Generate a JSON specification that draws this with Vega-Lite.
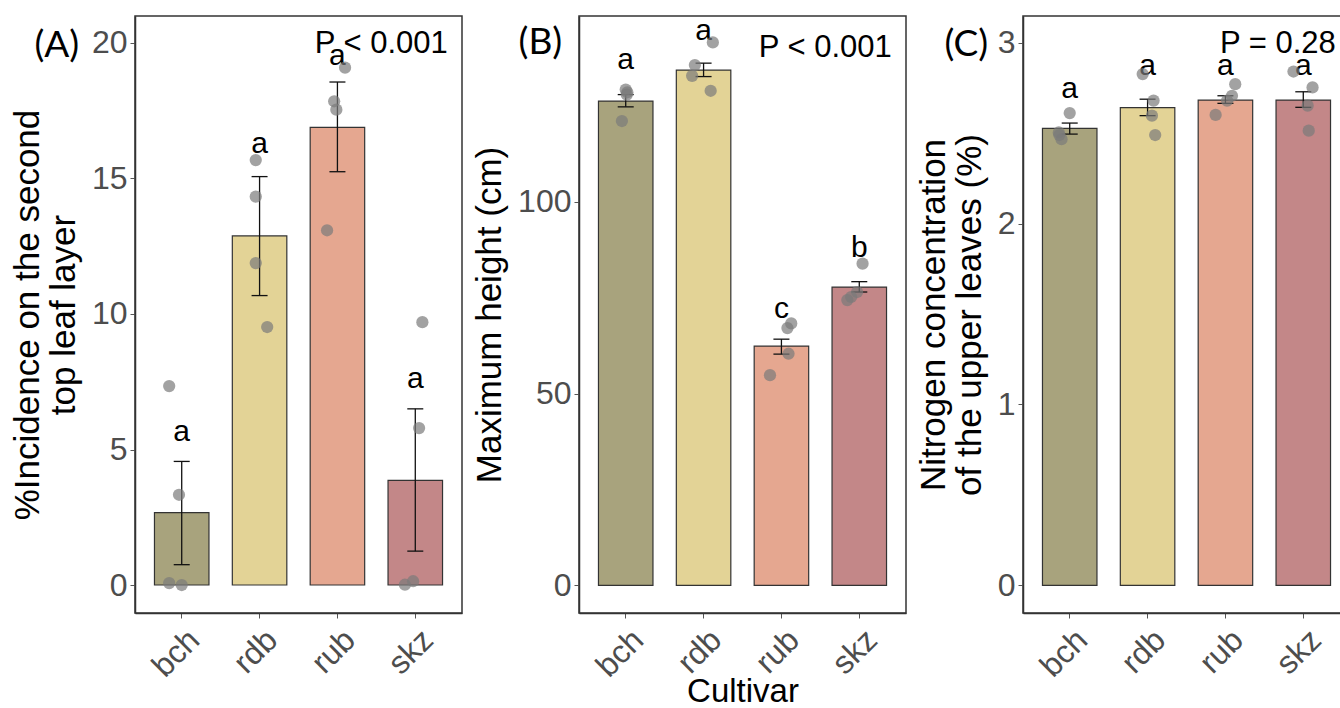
{
  "$schema": "https://vega.github.io/schema/vega-lite/v6.json",
  "background": "white",
  "padding": {"left": 9, "top": 14, "right": 0, "bottom": 0},
  "autosize": {"type": "pad"},
  "spacing": 117,
  "bounds": "flush",
  "config": {
    "font": "Liberation Sans",
    "view": {"stroke": "#333333", "strokeWidth": 1.5},
    "axis": {
      "grid": false,
      "domainColor": "#333333",
      "domainWidth": 1.5,
      "tickColor": "#555555",
      "tickSize": 5,
      "labelColor": "#4d4d4d",
      "labelFontSize": 32,
      "labelFont": "Liberation Sans",
      "labelPadding": 3,
      "titleFontSize": 35,
      "titleFontWeight": "normal",
      "titleColor": "#000000",
      "titleFont": "Liberation Sans",
      "titleLineHeight": 36
    },
    "axisX": {
      "labelAngle": -45,
      "labelAlign": "right",
      "labelBaseline": "top",
      "labelFontSize": 32,
      "labelOffset": 2,
      "labelPadding": 6,
      "titlePadding": -7,
      "titleFontSize": 33
    },
    "axisY": {"titlePadding": 10, "format": "d"}
  },
  "datasets": {
    "summary": [
      {"panel": "A", "cultivar": "bch", "mean": 2.67, "lo": 0.75, "hi": 4.56, "letter": "a", "label_y": 5.65},
      {"panel": "A", "cultivar": "rdb", "mean": 12.88, "lo": 10.68, "hi": 15.07, "letter": "a", "label_y": 16.27},
      {"panel": "A", "cultivar": "rub", "mean": 16.89, "lo": 15.25, "hi": 18.56, "letter": "a", "label_y": 19.52},
      {"panel": "A", "cultivar": "skz", "mean": 3.86, "lo": 1.25, "hi": 6.5, "letter": "a", "label_y": 7.6},
      {"panel": "B", "cultivar": "bch", "mean": 126.3, "lo": 124.8, "hi": 128.0, "letter": "a", "label_y": 136.9},
      {"panel": "B", "cultivar": "rdb", "mean": 134.4, "lo": 132.7, "hi": 136.2, "letter": "a", "label_y": 144.7},
      {"panel": "B", "cultivar": "rub", "mean": 62.4, "lo": 60.3, "hi": 64.2, "letter": "c", "label_y": 72.1},
      {"panel": "B", "cultivar": "skz", "mean": 77.8, "lo": 76.5, "hi": 79.2, "letter": "b", "label_y": 87.9},
      {"panel": "C", "cultivar": "bch", "mean": 2.527, "lo": 2.495, "hi": 2.556, "letter": "a", "label_y": 2.746},
      {"panel": "C", "cultivar": "rdb", "mean": 2.641, "lo": 2.597, "hi": 2.688, "letter": "a", "label_y": 2.871},
      {"panel": "C", "cultivar": "rub", "mean": 2.683, "lo": 2.665, "hi": 2.707, "letter": "a", "label_y": 2.871},
      {"panel": "C", "cultivar": "skz", "mean": 2.683, "lo": 2.643, "hi": 2.729, "letter": "a", "label_y": 2.871}
    ],
    "points": [
      {"panel": "A", "cultivar": "bch", "value": 7.34, "jitter": -0.23},
      {"panel": "A", "cultivar": "bch", "value": 3.33, "jitter": -0.05},
      {"panel": "A", "cultivar": "bch", "value": 0.07, "jitter": -0.23},
      {"panel": "A", "cultivar": "bch", "value": 0.0, "jitter": 0.0},
      {"panel": "A", "cultivar": "rdb", "value": 15.68, "jitter": -0.07},
      {"panel": "A", "cultivar": "rdb", "value": 14.33, "jitter": -0.07},
      {"panel": "A", "cultivar": "rdb", "value": 11.88, "jitter": -0.07},
      {"panel": "A", "cultivar": "rdb", "value": 9.52, "jitter": 0.14},
      {"panel": "A", "cultivar": "rub", "value": 19.09, "jitter": 0.14},
      {"panel": "A", "cultivar": "rub", "value": 17.85, "jitter": -0.06},
      {"panel": "A", "cultivar": "rub", "value": 17.54, "jitter": -0.02},
      {"panel": "A", "cultivar": "rub", "value": 13.09, "jitter": -0.19},
      {"panel": "A", "cultivar": "skz", "value": 9.7, "jitter": 0.13},
      {"panel": "A", "cultivar": "skz", "value": 5.79, "jitter": 0.07},
      {"panel": "A", "cultivar": "skz", "value": 0.01, "jitter": -0.19},
      {"panel": "A", "cultivar": "skz", "value": 0.14, "jitter": -0.04},
      {"panel": "B", "cultivar": "bch", "value": 129.3, "jitter": 0.0},
      {"panel": "B", "cultivar": "bch", "value": 128.6, "jitter": 0.03},
      {"panel": "B", "cultivar": "bch", "value": 128.0, "jitter": 0.02},
      {"panel": "B", "cultivar": "bch", "value": 121.1, "jitter": -0.07},
      {"panel": "B", "cultivar": "rdb", "value": 141.6, "jitter": 0.17},
      {"panel": "B", "cultivar": "rdb", "value": 135.7, "jitter": -0.16},
      {"panel": "B", "cultivar": "rdb", "value": 132.9, "jitter": -0.21},
      {"panel": "B", "cultivar": "rdb", "value": 129.0, "jitter": 0.13},
      {"panel": "B", "cultivar": "rub", "value": 68.3, "jitter": 0.18},
      {"panel": "B", "cultivar": "rub", "value": 67.1, "jitter": 0.11},
      {"panel": "B", "cultivar": "rub", "value": 60.4, "jitter": 0.13},
      {"panel": "B", "cultivar": "rub", "value": 54.8, "jitter": -0.21},
      {"panel": "B", "cultivar": "skz", "value": 83.9, "jitter": 0.06},
      {"panel": "B", "cultivar": "skz", "value": 76.5, "jitter": -0.04},
      {"panel": "B", "cultivar": "skz", "value": 75.2, "jitter": -0.15},
      {"panel": "B", "cultivar": "skz", "value": 74.4, "jitter": -0.22},
      {"panel": "C", "cultivar": "bch", "value": 2.611, "jitter": 0.0},
      {"panel": "C", "cultivar": "bch", "value": 2.504, "jitter": -0.2},
      {"panel": "C", "cultivar": "bch", "value": 2.467, "jitter": -0.15},
      {"panel": "C", "cultivar": "bch", "value": 2.49, "jitter": -0.19},
      {"panel": "C", "cultivar": "rdb", "value": 2.827, "jitter": -0.09},
      {"panel": "C", "cultivar": "rdb", "value": 2.68, "jitter": 0.11},
      {"panel": "C", "cultivar": "rdb", "value": 2.597, "jitter": 0.08},
      {"panel": "C", "cultivar": "rdb", "value": 2.49, "jitter": 0.14},
      {"panel": "C", "cultivar": "rub", "value": 2.771, "jitter": 0.18},
      {"panel": "C", "cultivar": "rub", "value": 2.707, "jitter": 0.12},
      {"panel": "C", "cultivar": "rub", "value": 2.68, "jitter": 0.03},
      {"panel": "C", "cultivar": "rub", "value": 2.601, "jitter": -0.18},
      {"panel": "C", "cultivar": "skz", "value": 2.841, "jitter": -0.18},
      {"panel": "C", "cultivar": "skz", "value": 2.753, "jitter": 0.17},
      {"panel": "C", "cultivar": "skz", "value": 2.652, "jitter": 0.08},
      {"panel": "C", "cultivar": "skz", "value": 2.514, "jitter": 0.1}
    ],
    "notes": [
      {"panel": "A", "p_text": "P < 0.001", "p_y": 19.97, "tag": "(A)", "tag_y": 19.89},
      {"panel": "B", "p_text": "P < 0.001", "p_y": 140.2, "tag": "(B)", "tag_y": 141.5},
      {"panel": "C", "p_text": "P = 0.28", "p_y": 2.992, "tag": "(C)", "tag_y": 2.985}
    ]
  },
  "hconcat": [
    {
      "width": 327,
      "height": 597,
      "resolve": {"scale": {"x": "independent", "xOffset": "independent"}},
      "layer": [
        {
          "layer": [
            {
              "data": {"name": "summary"},
              "transform": [{"filter": "datum.panel === 'A'"}],
              "mark": {"type": "bar", "stroke": "#333333", "strokeWidth": 1.2},
              "encoding": {
                "x": {"field": "cultivar", "type": "nominal", "scale": {"type": "band", "domain": ["bch", "rdb", "rub", "skz"], "paddingInner": 0.3, "paddingOuter": 0.25}, "title": null},
                "y": {"field": "mean", "type": "quantitative", "scale": {"domain": [-1.033, 20.996], "nice": false, "zero": false}, "axis": {"values": [0, 5, 10, 15, 20]}, "title": ["%Incidence on the second", "top leaf layer"]},
                "color": {"field": "cultivar", "type": "nominal", "scale": {"domain": ["bch", "rdb", "rub", "skz"], "range": ["#A8A37D", "#E3D396", "#E5A790", "#C38788"]}, "legend": null}
              }
            },
            {
              "data": {"name": "summary"},
              "transform": [{"filter": "datum.panel === 'A'"}],
              "mark": {"type": "rule", "color": "#111111", "strokeWidth": 1.3},
              "encoding": {"x": {"field": "cultivar", "type": "nominal"}, "y": {"field": "lo", "type": "quantitative"}, "y2": {"field": "hi"}}
            },
            {
              "data": {"name": "summary"},
              "transform": [{"filter": "datum.panel === 'A'"}],
              "mark": {"type": "tick", "color": "#111111", "size": 16, "thickness": 1.3, "opacity": 1},
              "encoding": {"x": {"field": "cultivar", "type": "nominal"}, "y": {"field": "lo", "type": "quantitative"}}
            },
            {
              "data": {"name": "summary"},
              "transform": [{"filter": "datum.panel === 'A'"}],
              "mark": {"type": "tick", "color": "#111111", "size": 16, "thickness": 1.3, "opacity": 1},
              "encoding": {"x": {"field": "cultivar", "type": "nominal"}, "y": {"field": "hi", "type": "quantitative"}}
            },
            {
              "data": {"name": "summary"},
              "transform": [{"filter": "datum.panel === 'A'"}],
              "mark": {"type": "text", "fontSize": 30, "baseline": "middle", "color": "#000000"},
              "encoding": {"x": {"field": "cultivar", "type": "nominal"}, "y": {"field": "label_y", "type": "quantitative"}, "text": {"field": "letter"}}
            },
            {
              "data": {"name": "notes"},
              "transform": [{"filter": "datum.panel === 'A'"}],
              "mark": {"type": "text", "fontSize": 31, "baseline": "middle", "align": "right", "dx": 32.5, "color": "#000000"},
              "encoding": {"x": {"datum": "skz", "type": "nominal"}, "y": {"field": "p_y", "type": "quantitative"}, "text": {"field": "p_text"}}
            },
            {
              "data": {"name": "notes"},
              "transform": [{"filter": "datum.panel === 'A'"}],
              "mark": {"type": "text", "font": "Lato", "fontSize": 37, "baseline": "middle", "align": "right", "dx": -102.5, "color": "#000000"},
              "encoding": {"x": {"datum": "bch", "type": "nominal"}, "y": {"field": "tag_y", "type": "quantitative"}, "text": {"field": "tag"}}
            }
          ]
        },
        {
          "data": {"name": "points"},
          "transform": [{"filter": "datum.panel === 'A'"}],
          "mark": {"type": "circle", "size": 150, "color": "#7a7a7a", "opacity": 0.7},
          "encoding": {
            "x": {"field": "cultivar", "type": "nominal", "scale": {"type": "band", "domain": ["bch", "rdb", "rub", "skz"], "paddingInner": 0.3, "paddingOuter": 0.25}, "axis": null},
            "xOffset": {"field": "jitter", "type": "quantitative", "scale": {"domain": [-0.5, 0.5]}},
            "y": {"field": "value", "type": "quantitative"}
          }
        }
      ]
    },
    {
      "width": 327,
      "height": 597,
      "resolve": {"scale": {"x": "independent", "xOffset": "independent"}},
      "layer": [
        {
          "layer": [
            {
              "data": {"name": "summary"},
              "transform": [{"filter": "datum.panel === 'B'"}],
              "mark": {"type": "bar", "stroke": "#333333", "strokeWidth": 1.2},
              "encoding": {
                "x": {"field": "cultivar", "type": "nominal", "scale": {"type": "band", "domain": ["bch", "rdb", "rub", "skz"], "paddingInner": 0.3, "paddingOuter": 0.25}, "title": "Cultivar"},
                "y": {"field": "mean", "type": "quantitative", "scale": {"domain": [-7.23, 148.5], "nice": false, "zero": false}, "axis": {"values": [0, 50, 100]}, "title": "Maximum height (cm)"},
                "color": {"field": "cultivar", "type": "nominal", "scale": {"domain": ["bch", "rdb", "rub", "skz"], "range": ["#A8A37D", "#E3D396", "#E5A790", "#C38788"]}, "legend": null}
              }
            },
            {
              "data": {"name": "summary"},
              "transform": [{"filter": "datum.panel === 'B'"}],
              "mark": {"type": "rule", "color": "#111111", "strokeWidth": 1.3},
              "encoding": {"x": {"field": "cultivar", "type": "nominal"}, "y": {"field": "lo", "type": "quantitative"}, "y2": {"field": "hi"}}
            },
            {
              "data": {"name": "summary"},
              "transform": [{"filter": "datum.panel === 'B'"}],
              "mark": {"type": "tick", "color": "#111111", "size": 16, "thickness": 1.3, "opacity": 1},
              "encoding": {"x": {"field": "cultivar", "type": "nominal"}, "y": {"field": "lo", "type": "quantitative"}}
            },
            {
              "data": {"name": "summary"},
              "transform": [{"filter": "datum.panel === 'B'"}],
              "mark": {"type": "tick", "color": "#111111", "size": 16, "thickness": 1.3, "opacity": 1},
              "encoding": {"x": {"field": "cultivar", "type": "nominal"}, "y": {"field": "hi", "type": "quantitative"}}
            },
            {
              "data": {"name": "summary"},
              "transform": [{"filter": "datum.panel === 'B'"}],
              "mark": {"type": "text", "fontSize": 30, "baseline": "middle", "color": "#000000"},
              "encoding": {"x": {"field": "cultivar", "type": "nominal"}, "y": {"field": "label_y", "type": "quantitative"}, "text": {"field": "letter"}}
            },
            {
              "data": {"name": "notes"},
              "transform": [{"filter": "datum.panel === 'B'"}],
              "mark": {"type": "text", "fontSize": 31, "baseline": "middle", "align": "right", "dx": 32.5, "color": "#000000"},
              "encoding": {"x": {"datum": "skz", "type": "nominal"}, "y": {"field": "p_y", "type": "quantitative"}, "text": {"field": "p_text"}}
            },
            {
              "data": {"name": "notes"},
              "transform": [{"filter": "datum.panel === 'B'"}],
              "mark": {"type": "text", "font": "Lato", "fontSize": 37, "baseline": "middle", "align": "right", "dx": -63.5, "color": "#000000"},
              "encoding": {"x": {"datum": "bch", "type": "nominal"}, "y": {"field": "tag_y", "type": "quantitative"}, "text": {"field": "tag"}}
            }
          ]
        },
        {
          "data": {"name": "points"},
          "transform": [{"filter": "datum.panel === 'B'"}],
          "mark": {"type": "circle", "size": 150, "color": "#7a7a7a", "opacity": 0.7},
          "encoding": {
            "x": {"field": "cultivar", "type": "nominal", "scale": {"type": "band", "domain": ["bch", "rdb", "rub", "skz"], "paddingInner": 0.3, "paddingOuter": 0.25}, "axis": null},
            "xOffset": {"field": "jitter", "type": "quantitative", "scale": {"domain": [-0.5, 0.5]}},
            "y": {"field": "value", "type": "quantitative"}
          }
        }
      ]
    },
    {
      "width": 327,
      "height": 597,
      "resolve": {"scale": {"x": "independent", "xOffset": "independent"}},
      "layer": [
        {
          "layer": [
            {
              "data": {"name": "summary"},
              "transform": [{"filter": "datum.panel === 'C'"}],
              "mark": {"type": "bar", "stroke": "#333333", "strokeWidth": 1.2},
              "encoding": {
                "x": {"field": "cultivar", "type": "nominal", "scale": {"type": "band", "domain": ["bch", "rdb", "rub", "skz"], "paddingInner": 0.3, "paddingOuter": 0.25}, "title": null},
                "y": {"field": "mean", "type": "quantitative", "scale": {"domain": [-0.153, 3.148], "nice": false, "zero": false}, "axis": {"values": [0, 1, 2, 3]}, "title": ["Nitrogen concentration", "of the upper leaves (%)"]},
                "color": {"field": "cultivar", "type": "nominal", "scale": {"domain": ["bch", "rdb", "rub", "skz"], "range": ["#A8A37D", "#E3D396", "#E5A790", "#C38788"]}, "legend": null}
              }
            },
            {
              "data": {"name": "summary"},
              "transform": [{"filter": "datum.panel === 'C'"}],
              "mark": {"type": "rule", "color": "#111111", "strokeWidth": 1.3},
              "encoding": {"x": {"field": "cultivar", "type": "nominal"}, "y": {"field": "lo", "type": "quantitative"}, "y2": {"field": "hi"}}
            },
            {
              "data": {"name": "summary"},
              "transform": [{"filter": "datum.panel === 'C'"}],
              "mark": {"type": "tick", "color": "#111111", "size": 16, "thickness": 1.3, "opacity": 1},
              "encoding": {"x": {"field": "cultivar", "type": "nominal"}, "y": {"field": "lo", "type": "quantitative"}}
            },
            {
              "data": {"name": "summary"},
              "transform": [{"filter": "datum.panel === 'C'"}],
              "mark": {"type": "tick", "color": "#111111", "size": 16, "thickness": 1.3, "opacity": 1},
              "encoding": {"x": {"field": "cultivar", "type": "nominal"}, "y": {"field": "hi", "type": "quantitative"}}
            },
            {
              "data": {"name": "summary"},
              "transform": [{"filter": "datum.panel === 'C'"}],
              "mark": {"type": "text", "fontSize": 30, "baseline": "middle", "color": "#000000"},
              "encoding": {"x": {"field": "cultivar", "type": "nominal"}, "y": {"field": "label_y", "type": "quantitative"}, "text": {"field": "letter"}}
            },
            {
              "data": {"name": "notes"},
              "transform": [{"filter": "datum.panel === 'C'"}],
              "mark": {"type": "text", "fontSize": 31, "baseline": "middle", "align": "right", "dx": 32.5, "color": "#000000"},
              "encoding": {"x": {"datum": "skz", "type": "nominal"}, "y": {"field": "p_y", "type": "quantitative"}, "text": {"field": "p_text"}}
            },
            {
              "data": {"name": "notes"},
              "transform": [{"filter": "datum.panel === 'C'"}],
              "mark": {"type": "text", "font": "Lato", "fontSize": 37, "baseline": "middle", "align": "right", "dx": -81.5, "color": "#000000"},
              "encoding": {"x": {"datum": "bch", "type": "nominal"}, "y": {"field": "tag_y", "type": "quantitative"}, "text": {"field": "tag"}}
            }
          ]
        },
        {
          "data": {"name": "points"},
          "transform": [{"filter": "datum.panel === 'C'"}],
          "mark": {"type": "circle", "size": 150, "color": "#7a7a7a", "opacity": 0.7},
          "encoding": {
            "x": {"field": "cultivar", "type": "nominal", "scale": {"type": "band", "domain": ["bch", "rdb", "rub", "skz"], "paddingInner": 0.3, "paddingOuter": 0.25}, "axis": null},
            "xOffset": {"field": "jitter", "type": "quantitative", "scale": {"domain": [-0.5, 0.5]}},
            "y": {"field": "value", "type": "quantitative"}
          }
        }
      ]
    }
  ]
}
